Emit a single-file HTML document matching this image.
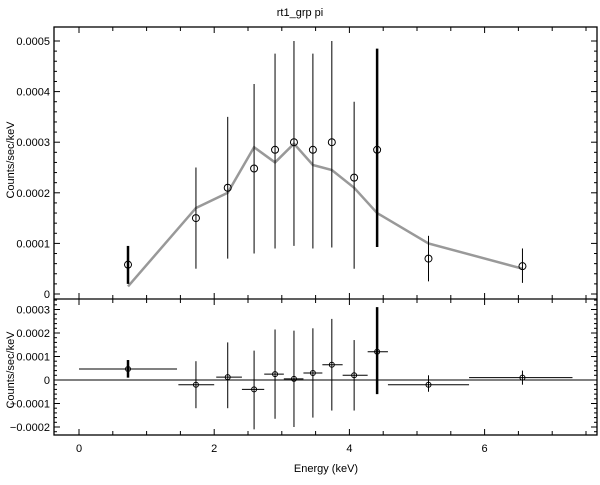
<!DOCTYPE html>
<html><head><meta charset="utf-8"><style>
body{margin:0;background:#fff;width:600px;height:480px;overflow:hidden}
svg text{font-family:"Liberation Sans",sans-serif;font-size:11px;fill:#000}
</style></head><body>
<svg id="chart" width="600" height="480" viewBox="0 0 600 480">
<text x="300" y="16" text-anchor="middle" font-size="12">rt1_grp pi</text>
<text x="326" y="472" text-anchor="middle" font-size="12">Energy (keV)</text>
<text transform="translate(14,160) rotate(-90)" text-anchor="middle">Counts/sec/keV</text>
<text transform="translate(14,370) rotate(-90)" text-anchor="middle">Counts/sec/keV</text>
<g id="g"></g>
</svg>
<script>
const energy=[0.725,1.73,2.2,2.59,2.9,3.18,3.46,3.74,4.07,4.41,5.17,6.56];
const eLo=[0,1.47,2.03,2.41,2.74,3.03,3.32,3.60,3.90,4.27,4.57,5.77];
const eHi=[1.45,2.0,2.41,2.74,3.03,3.32,3.60,3.90,4.27,4.57,5.77,7.3];
const rate=[0.000058,0.00015,0.00021,0.000248,0.000285,0.0003,0.000285,0.0003,0.00023,0.000285,0.00007,0.000055];
const rateLo=[0.00002,0.00005,0.00007,0.00008,0.00009,0.000095,0.00009,0.000092,0.00005,0.000093,0.000025,0.000022];
const rateHi=[0.000095,0.00025,0.00035,0.000415,0.000475,0.0005,0.000475,0.0005,0.00038,0.000485,0.000115,0.00009];
const model=[0.000015,0.00017,0.0002,0.00029,0.00026,0.000297,0.000255,0.000245,0.00021,0.00016,0.0001,0.00005];
const resid=[0.000047,-0.00002,0.000012,-0.00004,0.000025,0.000005,0.00003,0.000065,0.00002,0.00012,-0.00002,0.00001];
const residLo=[0.00001,-0.00012,-0.00012,-0.00021,-0.000165,-0.0002,-0.00016,-0.00013,-0.00013,-0.00006,-0.00005,-0.00002];
const residHi=[0.000085,0.00008,0.00016,0.000125,0.000215,0.00021,0.00022,0.00026,0.00017,0.00031,0.00002,0.00004];
const xTicks=[0,2,4,6];
const upperTicks=[0,0.0001,0.0002,0.0003,0.0004,0.0005];
const upperLabels=["0","0.0001","0.0002","0.0003","0.0004","0.0005"];
const lowerTicks=[-0.0002,-0.0001,0,0.0001,0.0002,0.0003];
const lowerLabels=["\u22120.0002","\u22120.0001","0","0.0001","0.0002","0.0003"];

const L=54,R=597,T=27,M=299,B=435;
const xs=e=>79+e*67.6;
const yU=v=>294-v*506000;
const yL=v=>380-v*235000;
const g=document.getElementById('g');
const NS='http://www.w3.org/2000/svg';
function mk(tag,attrs){const el=document.createElementNS(NS,tag);for(const k in attrs)el.setAttribute(k,attrs[k]);g.appendChild(el);return el;}
function line(x1,y1,x2,y2,w,c){return mk('line',{x1,y1,x2,y2,stroke:c||'#000','stroke-width':w||1});}

let f=mk('rect',{x:L,y:T,width:R-L,height:B-T,fill:'none',stroke:'#000','stroke-width':1.3});


let sp=line(L,M,R,M,1.3);



// x ticks
for(let e=0;e<=7.5;e+=0.5){const x=xs(e);if(x>R)break;const big=Math.abs(e%2)<1e-6;const h=big?6:4;
 line(x,T,x,T+h);line(x,M,x,M-h);line(x,M,x,M+h);line(x,B,x,B-h);}
xTicks.forEach(t=>{const tx=mk('text',{x:xs(t),y:452,'text-anchor':'middle','font-size':9});tx.textContent=t;
 
 });
// upper y ticks
for(let v=0;v<=0.00052;v+=0.00002){const y=yU(v);const big=Math.round(v*1e5)%10===0;line(L,y,L+(big?6:3),y);line(R,y,R-(big?6:3),y);}
upperTicks.forEach((v,i)=>{const tx=mk('text',{x:50,y:yU(v)+4,'text-anchor':'end'});tx.textContent=upperLabels[i];
 
 });
// lower y ticks
for(let v=-0.00022;v<=0.00034;v+=0.00002){const y=yL(v);if(y<M||y>B)continue;const big=Math.abs(Math.round(v*1e5))%10===0;line(L,y,L+(big?6:3),y);line(R,y,R-(big?6:3),y);}
lowerTicks.forEach((v,i)=>{const tx=mk('text',{x:50,y:yL(v)+4,'text-anchor':'end'});tx.textContent=lowerLabels[i];
 
 });
// zero line
let z=line(L,yL(0),R,yL(0),1);



// model
const pts=energy.map((e,i)=>xs(e)+','+yU(model[i])).join(' ');
let ml=mk('polyline',{points:pts,fill:'none',stroke:'#999','stroke-width':2.5});



energy.forEach((e,i)=>{const x=xs(e);
 const w=(i===0||i===9)?2.5:1;
 let eb=line(x,yU(rateLo[i]),x,yU(rateHi[i]),w);
 
 
 let c=mk('circle',{cx:x,cy:yU(rate[i]),r:3.5,fill:'none',stroke:'#000','stroke-width':1});
 
 
 let rb=line(x,yL(residLo[i]),x,yL(residHi[i]),w);
 
 
 let rx=line(xs(eLo[i]),yL(resid[i]),xs(eHi[i]),yL(resid[i]),1);
 
 
 let rc=mk('circle',{cx:x,cy:yL(resid[i]),r:2.5,fill:'none',stroke:'#000','stroke-width':1});
 
 
});
</script>
</body></html>
